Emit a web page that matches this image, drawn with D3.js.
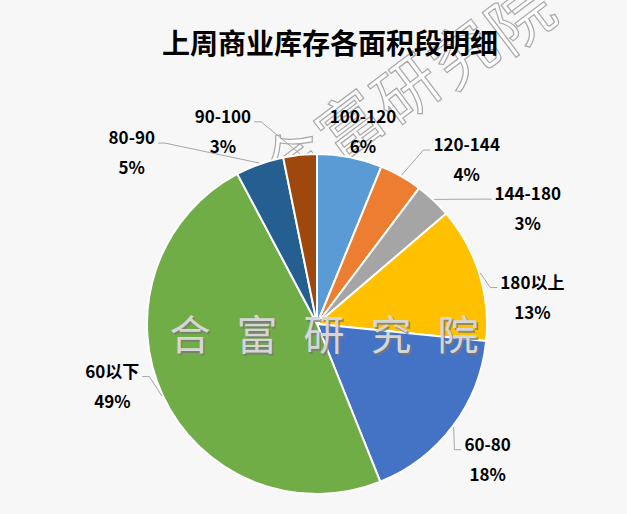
<!DOCTYPE html>
<html>
<head>
<meta charset="utf-8">
<script src="https://cdn.jsdelivr.net/npm/d3@7/dist/d3.min.js"></script>
<style>
  html, body { margin: 0; padding: 0; background: #f7f7f7; }
  svg { display: block; }
</style>
</head>
<body>
<svg id="chart" width="627" height="514"></svg>
<script>
// ---- data ----
const title = "上周商业库存各面积段明细";
const categories = ["100-120", "120-144", "144-180", "180以上", "60-80", "60以下", "80-90", "90-100"];
const values = [6.2, 4.1, 3.5, 12.9, 17.4, 48.5, 4.6, 3.2];
const pctLabels = ["6%", "4%", "3%", "13%", "18%", "49%", "5%", "3%"];
const colors = ["#5b9bd5", "#ed7d31", "#a5a5a5", "#ffc000", "#4472c4", "#70ad47", "#255e91", "#9e480e"];
const watermark = "合富研究院";

// ---- layout (not data) ----
const W = 627, H = 514;
const cx = 317, cy = 324, R = 170;
// label block centre in polar form: [angle deg clockwise from top, radius]
const labelPlacement = [[13.5, 197], [42.4, 222], [61.4, 240], [83, 217], [128.5, 218], [253, 214], [312.7, 252], [333.9, 214]];

const svg = d3.select("#chart");
svg.append("rect").attr("width", W).attr("height", H).attr("fill", "#f7f7f7");

// rotated outlined watermark (behind the pie)
const wm2 = svg.append("g").attr("transform", "translate(404,86) rotate(-32)");
watermark.split("").forEach((ch, i) => {
  wm2.append("text")
    .attr("transform", `translate(${(i - 2) * 67},0) rotate(-5)`)
    .attr("text-anchor", "middle").attr("dominant-baseline", "central")
    .attr("font-family", "'Noto Sans CJK SC', sans-serif")
    .attr("font-size", 64).attr("font-weight", 400)
    .attr("fill", "#fdfdfd").attr("stroke", "#a8a8a8").attr("stroke-width", 1.2)
    .text(ch);
});

// title
svg.append("text")
  .attr("x", 330).attr("y", 54)
  .attr("text-anchor", "middle")
  .attr("font-family", "'Noto Sans CJK SC', sans-serif")
  .attr("font-size", 28).attr("font-weight", 700)
  .attr("fill", "#000")
  .text(title);

// pie
const data = categories.map((c, i) => ({ cat: c, value: values[i], pct: pctLabels[i], color: colors[i], place: labelPlacement[i] }));
const pie = d3.pie().sort(null).value(d => d.value).startAngle(0).endAngle(2 * Math.PI);
const arcs = pie(data);
const arc = d3.arc().innerRadius(0).outerRadius(R);

const g = svg.append("g").attr("transform", `translate(${cx},${cy})`);
g.selectAll("path.slice").data(arcs).join("path")
  .attr("class", "slice")
  .attr("d", arc)
  .attr("fill", d => d.data.color)
  .attr("stroke", "#ffffff").attr("stroke-width", 2).attr("stroke-linejoin", "round");

// labels + leader lines
const fontLab = "'Noto Sans CJK SC', 'Open Sans', sans-serif";
const labG = svg.append("g");
arcs.forEach(a => {
  const [ang, rad] = a.data.place;
  const t = ang * Math.PI / 180;
  const lx = cx + rad * Math.sin(t);
  const ly = cy - rad * Math.cos(t);
  const nameBase = ly - 9, pctBase = ly + 21;
  const nameT = labG.append("text")
    .attr("x", lx).attr("y", nameBase)
    .attr("text-anchor", "middle")
    .attr("font-family", fontLab).attr("font-size", 17).attr("font-weight", 700)
    .attr("fill", "#000").text(a.data.cat);
  labG.append("text")
    .attr("x", lx).attr("y", pctBase)
    .attr("text-anchor", "middle")
    .attr("font-family", fontLab).attr("font-size", 17).attr("font-weight", 700)
    .attr("fill", "#000").text(a.data.pct);

  // leader line: from name baseline side to slice edge at mid-angle
  const bb = nameT.node().getBBox();
  const mid = (a.startAngle + a.endAngle) / 2;
  const ex = cx + (R + 1) * Math.sin(mid);
  const ey = cy - (R + 1) * Math.cos(mid);
  const rightSide = lx > ex;
  const sx = rightSide ? bb.x - 3 : bb.x + bb.width + 3;
  const sy = nameBase - 1;
  if (Math.hypot(lx - ex, ly - ey) < 40) return;
  const hx = sx + (rightSide ? -7 : 7);
  labG.append("path")
    .attr("d", d3.line()([[sx, sy], [hx, sy], [ex, ey]]))
    .attr("fill", "none").attr("stroke", "#a6a6a6").attr("stroke-width", 1);
});

// central embossed watermark
const wm = svg.append("g");
watermark.split("").forEach((ch, i) => {
  const x = cx + 7 + (i - 2) * 67;
  wm.append("text")
    .attr("x", x + 1.5).attr("y", 333.5)
    .attr("text-anchor", "middle").attr("dominant-baseline", "central")
    .attr("font-family", "'Noto Sans CJK SC', sans-serif")
    .attr("font-size", 41).attr("font-weight", 400)
    .attr("fill", "#777").attr("opacity", 0.75)
    .text(ch);
  wm.append("text")
    .attr("x", x).attr("y", 332)
    .attr("text-anchor", "middle").attr("dominant-baseline", "central")
    .attr("font-family", "'Noto Sans CJK SC', sans-serif")
    .attr("font-size", 41).attr("font-weight", 400)
    .attr("fill", "#d6d6d6")
    .text(ch);
});
</script>
</body>
</html>
